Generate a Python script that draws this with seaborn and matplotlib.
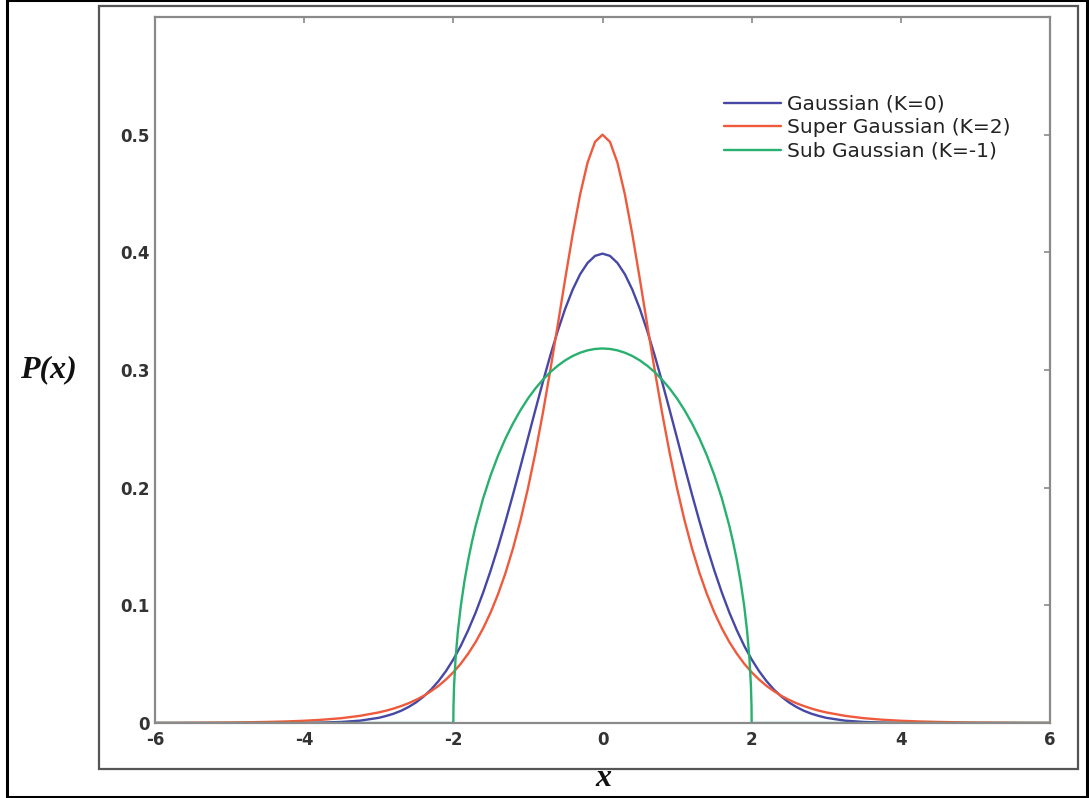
import matplotlib
matplotlib.use("Agg")
import matplotlib.pyplot as plt
import seaborn as sns
import pandas as pd
from matplotlib.patches import Rectangle

# ---- data ----
x_grid = [-6.0, -5.75, -5.5, -5.25, -5.0, -4.75, -4.5, -4.25, -4.0, -3.75, -3.5, -3.25,
          -3.0, -2.9, -2.8, -2.7, -2.6, -2.5, -2.4, -2.3, -2.2, -2.1,
          -2.0, -1.9, -1.8, -1.7, -1.6, -1.5, -1.4, -1.3, -1.2, -1.1,
          -1.0, -0.9, -0.8, -0.7, -0.6, -0.5, -0.4, -0.3, -0.2, -0.1,
          0.0, 0.1, 0.2, 0.3, 0.4, 0.5, 0.6, 0.7, 0.8, 0.9,
          1.0, 1.1, 1.2, 1.3, 1.4, 1.5, 1.6, 1.7, 1.8, 1.9,
          2.0, 2.1, 2.2, 2.3, 2.4, 2.5, 2.6, 2.7, 2.8, 2.9,
          3.0, 3.25, 3.5, 3.75, 4.0, 4.25, 4.5, 4.75, 5.0, 5.25, 5.5, 5.75, 6.0]

gaussian_y = [0.0, 0.0, 0.0, 0.0, 0.0, 0.0, 0.0, 0.0, 0.0001, 0.0004, 0.0009, 0.0020,
              0.0044, 0.0060, 0.0079, 0.0104, 0.0136, 0.0175, 0.0224, 0.0283, 0.0355, 0.0440,
              0.0540, 0.0656, 0.0790, 0.0940, 0.1109, 0.1295, 0.1497, 0.1714, 0.1942, 0.2179,
              0.2420, 0.2661, 0.2897, 0.3123, 0.3332, 0.3521, 0.3683, 0.3814, 0.3910, 0.3970,
              0.3989, 0.3970, 0.3910, 0.3814, 0.3683, 0.3521, 0.3332, 0.3123, 0.2897, 0.2661,
              0.2420, 0.2179, 0.1942, 0.1714, 0.1497, 0.1295, 0.1109, 0.0940, 0.0790, 0.0656,
              0.0540, 0.0440, 0.0355, 0.0283, 0.0224, 0.0175, 0.0136, 0.0104, 0.0079, 0.0060,
              0.0044, 0.0020, 0.0009, 0.0004, 0.0001, 0.0, 0.0, 0.0, 0.0, 0.0, 0.0, 0.0, 0.0]

super_y = [0.0001, 0.0001, 0.0002, 0.0003, 0.0004, 0.0006, 0.0009, 0.0013, 0.0019, 0.0028, 0.0041, 0.0061,
           0.0090, 0.0105, 0.0123, 0.0144, 0.0168, 0.0197, 0.0230, 0.0270, 0.0315, 0.0369,
           0.0431, 0.0504, 0.0590, 0.0689, 0.0805, 0.0939, 0.1096, 0.1276, 0.1484, 0.1722,
           0.1993, 0.2296, 0.2633, 0.2998, 0.3383, 0.3775, 0.4153, 0.4492, 0.4763, 0.4939,
           0.5000, 0.4939, 0.4763, 0.4492, 0.4153, 0.3775, 0.3383, 0.2998, 0.2633, 0.2296,
           0.1993, 0.1722, 0.1484, 0.1276, 0.1096, 0.0939, 0.0805, 0.0689, 0.0590, 0.0504,
           0.0431, 0.0369, 0.0315, 0.0270, 0.0230, 0.0197, 0.0168, 0.0144, 0.0123, 0.0105,
           0.0090, 0.0061, 0.0041, 0.0028, 0.0019, 0.0013, 0.0009, 0.0006, 0.0004, 0.0003, 0.0002, 0.0001, 0.0001]

sub_x = [-6.0, -2.0, -1.998, -1.99, -1.97, -1.94, -1.9, -1.85, -1.8, -1.75, -1.7, -1.6, -1.5, -1.4,
         -1.3, -1.2, -1.1, -1.0, -0.9, -0.8, -0.7, -0.6, -0.5, -0.4, -0.3, -0.2, -0.1,
         0.0, 0.1, 0.2, 0.3, 0.4, 0.5, 0.6, 0.7, 0.8, 0.9, 1.0, 1.1, 1.2, 1.3,
         1.4, 1.5, 1.6, 1.7, 1.75, 1.8, 1.85, 1.9, 1.94, 1.97, 1.99, 1.998, 2.0, 6.0]
sub_y = [0.0, 0.0, 0.0142, 0.0318, 0.0549, 0.0774, 0.0994, 0.1209, 0.1387, 0.1541, 0.1677, 0.1910, 0.2105, 0.2273,
         0.2419, 0.2546, 0.2658, 0.2757, 0.2843, 0.2917, 0.2982, 0.3036, 0.3082, 0.3119, 0.3147, 0.3167, 0.3179,
         0.3183, 0.3179, 0.3167, 0.3147, 0.3119, 0.3082, 0.3036, 0.2982, 0.2917, 0.2843, 0.2757, 0.2658, 0.2546, 0.2419,
         0.2273, 0.2105, 0.1910, 0.1677, 0.1541, 0.1387, 0.1209, 0.0994, 0.0774, 0.0549, 0.0318, 0.0142, 0.0, 0.0]

series_names = ["Gaussian (K=0)", "Super Gaussian (K=2)", "Sub Gaussian (K=-1)"]
series_colors = ["#4747a6", "#ef5a3c", "#27b06e"]
x_ticks = [-6, -4, -2, 0, 2, 4, 6]
y_ticks = [0, 0.1, 0.2, 0.3, 0.4, 0.5]
y_tick_labels = ["0", "0.1", "0.2", "0.3", "0.4", "0.5"]

df = pd.concat([
    pd.DataFrame({"x": x_grid, "y": gaussian_y, "series": series_names[0]}),
    pd.DataFrame({"x": x_grid, "y": super_y, "series": series_names[1]}),
    pd.DataFrame({"x": sub_x, "y": sub_y, "series": series_names[2]}),
], ignore_index=True)

sns.set_theme(style="white")
plt.rcParams["font.family"] = ["DejaVu Sans"]

W, H = 1089, 798
fig = plt.figure(figsize=(W / 100, H / 100), dpi=100)
fig.patch.set_facecolor("white")
ax = fig.add_axes([155 / W, 1 - 723 / H, 895 / W, 706 / H])

sns.lineplot(data=df, x="x", y="y", hue="series", hue_order=series_names,
             palette=dict(zip(series_names, series_colors)), sort=False, estimator=None,
             units="series", linewidth=1.7, ax=ax)

ax.set_xlim(-6, 6)
ax.set_ylim(0, 0.6)
ax.set_xticks(x_ticks)
ax.set_xticklabels([str(t) for t in x_ticks])
ax.set_yticks(y_ticks)
ax.set_yticklabels(y_tick_labels)

for s in ax.spines.values():
    s.set_color("#8a8a8a")
    s.set_linewidth(1.6)
ax.tick_params(axis="both", which="both", direction="in", top=True, right=True,
               length=4, width=1.2, color="#8a8a8a", labelsize=12, labelcolor="#333333")
ax.tick_params(axis="x", pad=6)
ax.tick_params(axis="y", pad=4)
for lab in ax.get_xticklabels() + ax.get_yticklabels():
    lab.set_fontweight("bold")

ax.set_xlabel("x", family=["Liberation Serif", "DejaVu Serif"], fontstyle="italic",
              fontweight="bold", fontsize=23, color="#111111")
ax.xaxis.set_label_coords(0.5006, -0.078)
ax.xaxis.label.set_va("center")
ax.set_ylabel("P(x)", family=["Liberation Serif", "DejaVu Serif"], fontstyle="italic",
              fontweight="bold", fontsize=23, color="#111111", rotation=0)
ax.yaxis.set_label_coords(-0.1196, 0.5)
ax.yaxis.label.set_va("center")
ax.yaxis.label.set_ha("center")

leg = ax.legend(loc="upper left", bbox_to_anchor=(0.627, 0.901), frameon=False,
                fontsize=14.5, handlelength=2.8, handletextpad=0.3, labelspacing=0.22,
                borderaxespad=0)
for t in leg.get_texts():
    t.set_color("#222222")
for h in leg.get_lines():
    h.set_linewidth(1.7)

# frames around the figure
fig.add_artist(Rectangle((99 / W, 1 - 769 / H), (1078 - 99) / W, (769 - 6) / H,
                         transform=fig.transFigure, fill=False, edgecolor="#555555", linewidth=1.6))
fig.add_artist(Rectangle((7 / W, 1 - 797 / H), (1087 - 7) / W, (797 - 0) / H,
                         transform=fig.transFigure, fill=False, edgecolor="#000000", linewidth=2.2))

fig.savefig("out.png", dpi=100, facecolor="white")
